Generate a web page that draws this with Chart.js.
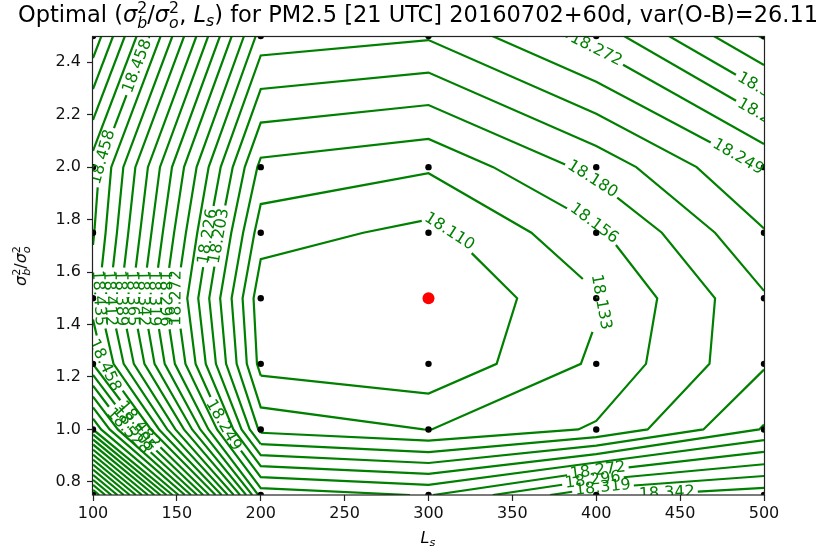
<!DOCTYPE html>
<html>
<head>
<meta charset="utf-8">
<script src="https://cdn.jsdelivr.net/npm/chart.js@4.4.1/dist/chart.umd.min.js"></script>
<style>
html,body{margin:0;padding:0;background:#fff;}
#wrap{position:relative;width:829px;height:553px;overflow:hidden;background:#fff;}
#c{position:absolute;left:0;top:0;}
.t{position:absolute;font-family:"DejaVu Sans",sans-serif;color:#000;white-space:nowrap;z-index:2;line-height:1.2;}
.m{font-style:italic;}
.ss{display:inline-block;vertical-align:-0.38em;font-size:0.7em;line-height:0.95;text-align:left;}
.ss span{display:block;}
.sb{font-size:0.7em;vertical-align:-0.25em;font-style:italic;}
</style>
</head>
<body>
<div id="wrap">
<canvas id="c" width="829" height="553"></canvas>
<div class="t" id="title" style="left:18px;top:1px;font-size:22.5px;">Optimal (<span class="m">σ</span><span class="ss"><span>2</span><span class="m">b</span></span>/<span class="m">σ</span><span class="ss"><span>2</span><span class="m">o</span></span>, <span class="m">L</span><span class="sb">s</span>) for PM2.5 [21 UTC] 20160702+60d, var(O-B)=26.11</div>
<div class="t" id="ylab" style="left:22px;top:266px;transform:translate(-50%,-50%) rotate(-90deg);font-size:16px;"><span class="m">σ</span><span class="ss"><span>2</span><span class="m">b</span></span>/<span class="m">σ</span><span class="ss"><span>2</span><span class="m">o</span></span></div>
<div class="t" id="xlab" style="left:428px;top:539px;transform:translate(-50%,-50%);font-size:16px;"><span class="m">L</span><span class="sb">s</span></div>
</div>
<script>
// ---- data ----
const xGrid = [100, 200, 300, 400, 500];
const yGrid = [0.75, 1.0, 1.25, 1.5, 1.75, 2.0, 2.5];
const z_075 = [18.9226, 18.2865, 18.2702, 18.3375, 18.3561];
const z_100 = [18.6208, 18.1490, 18.1325, 18.1588, 18.2280];
const z_125 = [18.4815, 18.1014, 18.0914, 18.1372, 18.2006];
const z_150 = [18.4467, 18.0949, 18.0868, 18.1307, 18.2003];
const z_175 = [18.4606, 18.1202, 18.1035, 18.1516, 18.2242];
const z_200 = [18.4699, 18.1495, 18.1360, 18.1878, 18.2516];
const z_250 = [18.5674, 18.2393, 18.2289, 18.2818, 18.3677];
const levels = [18.110, 18.133, 18.156, 18.180, 18.203, 18.226, 18.249, 18.272, 18.296, 18.319,
  18.342, 18.365, 18.389, 18.412, 18.435, 18.458, 18.482, 18.505, 18.528, 18.551,
  18.574, 18.598, 18.621, 18.644, 18.667, 18.690, 18.714, 18.737, 18.760, 18.783,
  18.806, 18.830, 18.853, 18.876, 18.899, 18.922];
const optX = [300];
const optY = [1.5];
const xTicks = [100, 150, 200, 250, 300, 350, 400, 450, 500];
const yTicks = [0.8, 1.0, 1.2, 1.4, 1.6, 1.8, 2.0, 2.2, 2.4];
// contour label placement (level, near x, near y)
const clabelSpots = [
  [18.110, 313, 1.76], [18.133, 400, 1.49], [18.156, 400, 1.80], [18.180, 400, 1.98],
  [18.203, 173, 1.74], [18.226, 164, 1.74], [18.249, 179, 1.02], [18.249, 483, 2.02],
  [18.272, 400, 2.45], [18.272, 401, 0.84], [18.296, 398, 0.805], [18.319, 404, 0.775],
  [18.342, 442, 0.767],
  [18.272, 151, 1.5], [18.296, 144, 1.5], [18.319, 137, 1.5], [18.342, 130, 1.5],
  [18.365, 123, 1.5], [18.389, 116, 1.5], [18.412, 109, 1.5], [18.435, 102, 1.5],
  [18.458, 101, 2.05], [18.458, 106, 1.24],
  [18.482, 128, 1.02], [18.505, 122, 0.99], [18.528, 116, 0.96],
  [18.296, 499, 2.19], [18.319, 499, 2.29], [18.458, 112, 2.42]
];

const Z = [z_075, z_100, z_125, z_150, z_175, z_200, z_250];

// ---- marching squares ----
function contourSegments(L) {
  const segs = [];
  const nx = xGrid.length, ny = yGrid.length;
  function pt(t, i, j) {
    let za, zb, xa, xb, ya, yb;
    if (t === 'h') { za = Z[j][i]; zb = Z[j][i + 1]; xa = xGrid[i]; xb = xGrid[i + 1]; ya = yb = yGrid[j]; }
    else { za = Z[j][i]; zb = Z[j + 1][i]; xa = xb = xGrid[i]; ya = yGrid[j]; yb = yGrid[j + 1]; }
    const f = (L - za) / (zb - za);
    return { k: t + i + '_' + j, x: xa + f * (xb - xa), y: ya + f * (yb - ya) };
  }
  for (let j = 0; j < ny - 1; j++) {
    for (let i = 0; i < nx - 1; i++) {
      const a = Z[j][i] > L, b = Z[j][i + 1] > L, c = Z[j + 1][i + 1] > L, d = Z[j + 1][i] > L;
      const e = [];
      if (a !== b) e.push(pt('h', i, j));
      if (b !== c) e.push(pt('v', i + 1, j));
      if (c !== d) e.push(pt('h', i, j + 1));
      if (d !== a) e.push(pt('v', i, j));
      if (e.length === 2) segs.push([e[0], e[1]]);
      else if (e.length === 4) {
        const center = (Z[j][i] + Z[j][i + 1] + Z[j + 1][i + 1] + Z[j + 1][i]) / 4 > L;
        if (center === a) { segs.push([e[0], e[1]]); segs.push([e[2], e[3]]); }
        else { segs.push([e[0], e[3]]); segs.push([e[1], e[2]]); }
      }
    }
  }
  return segs;
}
function chain(segs) {
  const adj = new Map();
  segs.forEach((s, idx) => { for (const p of s) { if (!adj.has(p.k)) adj.set(p.k, []); adj.get(p.k).push(idx); } });
  const used = new Array(segs.length).fill(false);
  const lines = [];
  function walk(idx, k) {
    const s0 = segs[idx];
    const line = [s0[0].k === k ? s0[0] : s0[1]];
    while (idx !== -1 && !used[idx]) {
      used[idx] = true;
      const s = segs[idx];
      const other = s[0].k === k ? s[1] : s[0];
      line.push(other);
      k = other.k;
      const nb = adj.get(k).filter(n => !used[n]);
      idx = nb.length ? nb[0] : -1;
    }
    return line.map(p => ({ x: p.x, y: p.y }));
  }
  for (const [k, list] of adj) { if (list.length === 1 && !used[list[0]]) lines.push(walk(list[0], k)); }
  for (let i = 0; i < segs.length; i++) if (!used[i]) lines.push(walk(i, segs[i][0].k));
  return lines;
}

const GREEN = '#008000';
const LABEL_FONT = '16px "DejaVu Sans"';
const labelDraws = [];

const labelPlugin = {
  id: 'clabels',
  afterDatasetsDraw(chart) {
    const ctx = chart.ctx, a = chart.chartArea;
    const sx = chart.scales.x, sy = chart.scales.y;
    ctx.save();
    ctx.beginPath(); ctx.rect(a.left, a.top, a.right - a.left, a.bottom - a.top); ctx.clip();
    ctx.font = LABEL_FONT; ctx.fillStyle = GREEN; ctx.textAlign = 'center'; ctx.textBaseline = 'middle';
    for (const l of labelDraws) {
      ctx.save();
      ctx.translate(sx.getPixelForValue(l.x), sy.getPixelForValue(l.y));
      ctx.rotate(l.ang);
      ctx.fillText(l.text, 0, 0);
      ctx.restore();
    }
    ctx.restore();
  },
  afterDraw(chart) {
    const ctx = chart.ctx, a = chart.chartArea;
    ctx.save();
    ctx.strokeStyle = '#222'; ctx.lineWidth = 1.2;
    ctx.strokeRect(Math.round(a.left) - 0.5, Math.round(a.top) + 0.5, Math.round(a.right - a.left) + 1, Math.round(a.bottom - a.top) - 0.5);
    ctx.restore();
  }
};

const gridPts = [];
yGrid.forEach(y => xGrid.forEach(x => gridPts.push({ x, y })));

const tickFont = { family: 'DejaVu Sans', size: 16 };
const chart = new Chart(document.getElementById('c'), {
  type: 'scatter',
  data: {
    datasets: [
      { data: optX.map((x, i) => ({ x, y: optY[i] })), pointRadius: 6, pointBackgroundColor: '#ff0000', pointBorderWidth: 0, order: 0, clip: 0 },
      { data: gridPts, pointRadius: 3.2, pointBackgroundColor: '#000', pointBorderWidth: 0, order: 1, clip: 0 }
    ]
  },
  options: {
    responsive: false, animation: false,
    layout: { padding: { left: 0, top: 36, right: 65, bottom: 0 } },
    plugins: { legend: { display: false }, tooltip: { enabled: false }, title: { display: false } },
    events: [],
    scales: {
      x: {
        type: 'linear', min: 100, max: 500,
        afterBuildTicks: s => { s.ticks = xTicks.map(v => ({ value: v })); },
        afterFit: s => { s.height = 58; },
        ticks: { font: tickFont, color: '#111', padding: 3, maxRotation: 0, autoSkip: false, callback: v => String(v) },
        grid: { drawOnChartArea: false, drawTicks: true, tickLength: 6, color: '#222', tickWidth: 1.2 },
        border: { display: false }
      },
      y: {
        type: 'linear', min: 0.75, max: 2.5,
        afterBuildTicks: s => { s.ticks = yTicks.map(v => ({ value: v })); },
        afterFit: s => { s.width = 93; },
        ticks: { font: tickFont, color: '#111', padding: 6, autoSkip: false, callback: v => v.toFixed(1) },
        grid: { drawOnChartArea: false, drawTicks: true, tickLength: 6, color: '#222', tickWidth: 1.2 },
        border: { display: false }
      }
    }
  },
  plugins: [labelPlugin]
});

// build contour lines, cut gaps for labels
(function build() {
  const sx = chart.scales.x, sy = chart.scales.y, ctx = chart.ctx;
  ctx.save(); ctx.font = LABEL_FONT;
  const toPx = p => ({ x: sx.getPixelForValue(p.x), y: sy.getPixelForValue(p.y) });
  const toData = (px, py) => ({ x: sx.getValueForPixel(px), y: sy.getValueForPixel(py) });
  const byLevel = levels.map(L => chain(contourSegments(L)));
  for (const spot of clabelSpots) {
    const li = levels.indexOf(spot[0]);
    if (li < 0) continue;
    const lines = byLevel[li];
    const target = toPx({ x: spot[1], y: spot[2] });
    let best = null;
    lines.forEach((line, k) => {
      const P = line.map(toPx);
      let acc = 0;
      for (let i = 0; i < P.length - 1; i++) {
        const a = P[i], b = P[i + 1];
        const dx = b.x - a.x, dy = b.y - a.y, len = Math.hypot(dx, dy);
        if (len === 0) continue;
        let t = ((target.x - a.x) * dx + (target.y - a.y) * dy) / (len * len);
        t = Math.max(0, Math.min(1, t));
        const d = Math.hypot(a.x + t * dx - target.x, a.y + t * dy - target.y);
        if (!best || d < best.d) best = { d, k, s: acc + t * len };
        acc += len;
      }
    });
    if (!best || best.d > 40) continue;
    const line = lines[best.k];
    const P = line.map(toPx);
    const cum = [0];
    for (let i = 1; i < P.length; i++) cum.push(cum[i - 1] + Math.hypot(P[i].x - P[i - 1].x, P[i].y - P[i - 1].y));
    const total = cum[cum.length - 1];
    const text = spot[0].toFixed(3);
    const w = ctx.measureText(text).width;
    const half = w / 2 + 3;
    const at = s => {
      s = Math.max(0, Math.min(total, s));
      let i = 0;
      while (i < P.length - 2 && cum[i + 1] < s) i++;
      const seg = cum[i + 1] - cum[i];
      const f = seg > 0 ? (s - cum[i]) / seg : 0;
      return { x: P[i].x + f * (P[i + 1].x - P[i].x), y: P[i].y + f * (P[i + 1].y - P[i].y), i };
    };
    const s1 = best.s - half, s2 = best.s + half;
    const A = at(s1), B = at(s2), C = at(best.s);
    let ang = Math.atan2(B.y - A.y, B.x - A.x);
    if (ang >= Math.PI / 2) ang -= Math.PI;
    if (ang < -Math.PI / 2) ang += Math.PI;
    const pieces = [];
    if (s1 > 0) pieces.push(line.slice(0, A.i + 1).concat([toData(A.x, A.y)]));
    if (s2 < total) pieces.push([toData(B.x, B.y)].concat(line.slice(B.i + 1)));
    lines.splice(best.k, 1, ...pieces.filter(p => p.length >= 2));
    const cd = toData(C.x, C.y);
    labelDraws.push({ text, x: cd.x, y: cd.y, ang });
  }
  ctx.restore();
  byLevel.forEach(lines => lines.forEach(line => {
    chart.data.datasets.push({
      data: line, showLine: true, pointRadius: 0, pointHoverRadius: 0, borderColor: GREEN,
      borderWidth: 2.2, tension: 0, fill: false, order: 2
    });
  }));
  chart.update('none');
})();
</script>
</body>
</html>
